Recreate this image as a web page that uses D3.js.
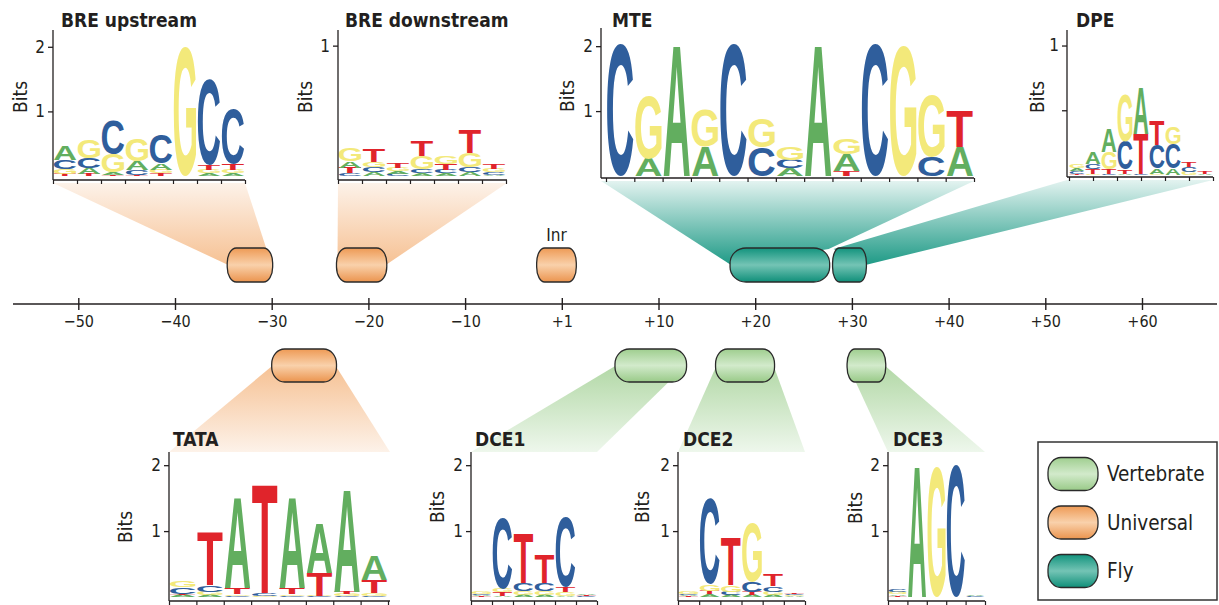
<!DOCTYPE html>
<html><head><meta charset="utf-8">
<script src="https://cdn.jsdelivr.net/npm/d3@7"></script>
<style>
html,body{margin:0;padding:0;background:#fff;}
svg{display:block;}
text{font-family:"DejaVu Sans Condensed","DejaVu Sans",sans-serif;font-stretch:condensed;}
</style></head><body>
<svg id="chart" width="1219" height="605"></svg>
<script>
// ---------------- DATA ----------------
const axisTickValues = [-50,-40,-30,-20,-10,0,10,20,30,40,50,60];
const axisTickLabels = ["\u221250","\u221240","\u221230","\u221220","\u221210","+1","+10","+20","+30","+40","+50","+60"];

const elementNames  = ["BRE upstream","BRE downstream","Inr","MTE","DPE","TATA","DCE1","DCE2","DCE3"];
const elementGroups = ["Universal","Universal","Universal","Fly","Fly","Universal","Vertebrate","Vertebrate","Vertebrate"];
const elementStart  = [-34.6,-23.3,-2.6,17.4,28.0,-30.0,5.5,15.9,29.5];
const elementEnd    = [-29.9,-18.1,1.5,27.7,31.5,-23.3,12.9,22.0,33.5];

const legendLabels = ["Vertebrate","Universal","Fly"];

// sequence logos: each column = [letter, bits] stacked bottom -> top
const logoBREup = [
  [["T",0.03],["G",0.08],["C",0.14],["A",0.22]],
  [["T",0.03],["A",0.09],["C",0.16],["G",0.28]],
  [["T",0.02],["A",0.04],["G",0.28],["C",0.52]],
  [["T",0.02],["C",0.07],["A",0.14],["G",0.34]],
  [["T",0.04],["G",0.06],["A",0.10],["C",0.44]],
  [["G",2.0]],
  [["A",0.04],["G",0.05],["T",0.07],["C",1.32]],
  [["A",0.04],["G",0.06],["T",0.09],["C",0.86]]
];
const logoBREdown = [
  [["C",0.02],["T",0.045],["A",0.05],["G",0.095]],
  [["A",0.03],["C",0.035],["G",0.04],["T",0.095]],
  [["C",0.015],["A",0.02],["G",0.025],["T",0.035]],
  [["A",0.02],["C",0.03],["G",0.10],["T",0.115]],
  [["A",0.02],["C",0.025],["T",0.05],["G",0.06]],
  [["A",0.03],["C",0.04],["G",0.11],["T",0.18]],
  [["A",0.01],["C",0.02],["G",0.025],["T",0.04]]
];
const logoMTE = [
  [["C",2.02]],
  [["A",0.27],["G",0.97]],
  [["A",2.02]],
  [["A",0.45],["G",0.56]],
  [["C",2.02]],
  [["C",0.44],["G",0.45]],
  [["A",0.12],["C",0.13],["G",0.20]],
  [["A",2.02]],
  [["T",0.08],["A",0.25],["G",0.25]],
  [["C",2.02]],
  [["G",2.02]],
  [["C",0.30],["G",0.95]],
  [["A",0.45],["T",0.56]]
];
const logoDPE = [
  [["T",0.01],["C",0.02],["A",0.02],["G",0.03]],
  [["G",0.01],["T",0.035],["C",0.04],["A",0.09]],
  [["C",0.01],["T",0.035],["G",0.13],["A",0.18]],
  [["A",0.01],["T",0.03],["C",0.22],["G",0.37]],
  [["C",0.01],["T",0.31],["A",0.36]],
  [["G",0.01],["A",0.04],["C",0.18],["T",0.19]],
  [["A",0.05],["C",0.19],["G",0.13]],
  [["G",0.025],["C",0.04],["T",0.04]],
  [["A",0.01],["T",0.02]]
];
const logoTATA = [
  [["A",0.03],["T",0.02],["C",0.10],["G",0.09]],
  [["A",0.03],["G",0.05],["C",0.10],["T",0.80]],
  [["C",0.02],["G",0.02],["T",0.10],["A",1.37]],
  [["G",0.02],["C",0.04],["T",1.65]],
  [["C",0.02],["G",0.02],["T",0.10],["A",1.37]],
  [["C",0.01],["G",0.01],["T",0.35],["A",0.74]],
  [["C",0.02],["G",0.03],["T",0.03],["A",1.56]],
  [["C",0.02],["G",0.04],["T",0.20],["A",0.38]]
];
const logoDCE1 = [
  [["T",0.01],["A",0.02],["C",0.02],["G",0.03]],
  [["A",0.02],["T",0.05],["G",0.05],["C",1.08]],
  [["A",0.03],["G",0.06],["C",0.12],["T",0.75]],
  [["A",0.03],["G",0.06],["C",0.12],["T",0.43]],
  [["A",0.02],["G",0.05],["T",0.08],["C",1.05]],
  [["C",0.01],["T",0.02],["A",0.02]]
];
const logoDCE2 = [
  [["T",0.01],["A",0.02],["C",0.02],["G",0.03]],
  [["A",0.04],["T",0.05],["G",0.10],["C",1.30]],
  [["A",0.03],["C",0.05],["G",0.10],["T",0.73]],
  [["A",0.03],["T",0.05],["C",0.15],["G",0.90]],
  [["A",0.03],["G",0.05],["C",0.08],["T",0.18]],
  [["A",0.01],["G",0.02],["C",0.02],["T",0.02]]
];
const logoDCE3 = [
  [["T",0.02],["A",0.02],["G",0.03],["C",0.03]],
  [["A",2.0]],
  [["G",1.97]],
  [["C",2.0]],
  [["C",0.01],["A",0.01]]
];

// ---------------- LAYOUT / STYLE ----------------
const INK = "#231f20";
const letterColor = {A:"#62ae5f", C:"#2f5e9c", G:"#f3e97a", T:"#e0242b"};
const groupStyle = {
  Universal:  {top:"#ee9a55", mid:"#f9d1ab", bot:"#eb944e", fDark:"#f6c193", fLight:"#fdf2e9"},
  Fly:        {top:"#12937d", mid:"#74c4b5", bot:"#0f8f79", fDark:"#1e9a86", fLight:"#e3f3f0"},
  Vertebrate: {top:"#9fce8f", mid:"#d2eacb", bot:"#99ca88", fDark:"#b2d8a6", fLight:"#eef7ec"}
};
const rowY = {top:{y0:248,y1:282}, bottom:{y0:349,y1:382}};
const layout = {
  "BRE upstream":  {row:"top", logo:logoBREup, ax0:53, ax1:245, c0:53, c1:245, tx0:53, tx1:245, nT:9, base:176, axisY:180, top:30, ymax:2.26, yT:[1,2], yL:["1","2"], title:[61,27], bits:[20,97], aL:"mid", aR:"mid"},
  "BRE downstream":{row:"top", logo:logoBREdown, ax0:338, ax1:507, c0:338, c1:506, tx0:338, tx1:506, nT:8, base:176, axisY:180, top:30, ymax:1.12, yT:[1], yL:["1"], title:[345,27], bits:[305,97], aL:"mid", aR:"mid"},
  "Inr":           {row:"top"},
  "MTE":           {row:"top", logo:logoMTE, ax0:601, ax1:974, c0:606, c1:974, tx0:606, tx1:974, nT:14, base:176, axisY:178, top:28, ymax:2.28, yT:[1,2], yL:["1","2"], title:[612,27], bits:[567,96], aL:"mid", aR:"top"},
  "DPE":           {row:"top", logo:logoDPE, ax0:1067, ax1:1213, c0:1069, c1:1213, tx0:1069, tx1:1213, nT:7, base:175, axisY:177, top:30, ymax:1.12, yT:[0.5,1], yL:["","1"], title:[1076,27], bits:[1037,97], aL:"top", aR:"mid"},
  "TATA":          {row:"bottom", logo:logoTATA, ax0:169, ax1:390, c0:169, c1:388, tx0:169, tx1:388, nT:9, base:597, axisY:601, top:452, ymax:2.2, yT:[1,2], yL:["1","2"], title:[173,446], bits:[125,527], aL:"mid", aR:"mid"},
  "DCE1":          {row:"bottom", logo:logoDCE1, ax0:471, ax1:597, c0:471, c1:597, tx0:471, tx1:597, nT:7, base:597, axisY:601, top:452, ymax:2.2, yT:[1,2], yL:["1","2"], title:[475,446], bits:[437,507], aL:"mid", aR:"mid"},
  "DCE2":          {row:"bottom", logo:logoDCE2, ax0:678, ax1:805, c0:678, c1:805, tx0:678, tx1:805, nT:7, base:597, axisY:601, top:452, ymax:2.2, yT:[1,2], yL:["1","2"], title:[683,446], bits:[642,507], aL:"mid", aR:"mid"},
  "DCE3":          {row:"bottom", logo:logoDCE3, ax0:888, ax1:985, c0:888, c1:985, tx0:888, tx1:985, nT:6, base:597, axisY:601, top:452, ymax:2.2, yT:[1,2], yL:["1","2"], title:[893,446], bits:[855,508], aL:"mid", aR:"mid"}
};

// ---------------- DRAW ----------------
const svg = d3.select("#chart");
const defs = svg.append("defs");
const gFun = svg.append("g"), gBox = svg.append("g"), gAxis = svg.append("g"), gLogo = svg.append("g"), gLeg = svg.append("g");

Object.entries(groupStyle).forEach(([k,s]) => {
  const lg = defs.append("linearGradient").attr("id","box-"+k).attr("x1",0).attr("y1",0).attr("x2",0).attr("y2",1);
  lg.append("stop").attr("offset","0").attr("stop-color",s.top);
  lg.append("stop").attr("offset","0.5").attr("stop-color",s.mid);
  lg.append("stop").attr("offset","1").attr("stop-color",s.bot);
});

const xMain = d3.scaleLinear().domain([-50,60]).range([78.3,1142]);

// main axis
const axisY = 304;
gAxis.append("line").attr("x1",13).attr("x2",1217).attr("y1",axisY).attr("y2",axisY)
  .attr("stroke",INK).attr("stroke-width",1.4);
const axG = gAxis.append("g").attr("transform",`translate(0,${axisY-6})`)
  .call(d3.axisBottom(xMain).tickValues(axisTickValues).tickFormat((d,i)=>axisTickLabels[i]).tickSize(12).tickPadding(6));
axG.select(".domain").remove();
axG.selectAll(".tick line").attr("stroke",INK).attr("stroke-width",1.4);
axG.selectAll(".tick text").attr("font-size",16).style("fill",INK)
  .style("font-family",'"DejaVu Sans Condensed","DejaVu Sans",sans-serif');

function boxPath(x0,y0,x1,y1,rx,ry){
  return `M${x0+rx},${y0} H${x1-rx} A${rx},${ry} 0 0 1 ${x1},${y0+ry} V${y1-ry} A${rx},${ry} 0 0 1 ${x1-rx},${y1} H${x0+rx} A${rx},${ry} 0 0 1 ${x0},${y1-ry} V${y0+ry} A${rx},${ry} 0 0 1 ${x0+rx},${y0} Z`;
}

// elements, funnels
elementNames.forEach((name,i) => {
  const grp = elementGroups[i], st = groupStyle[grp];
  const L = layout[name], r = rowY[L.row];
  const bx0 = xMain(elementStart[i]), bx1 = xMain(elementEnd[i]);
  const ym = (r.y0+r.y1)/2;
  const w = bx1-bx0, h = r.y1-r.y0;
  const rx = Math.min(w*0.2, 16), ry = Math.min(h/2, 15);
  if (L.logo) {
    const pL = L.aL==="top" ? [bx0+1, r.y0+1] : [bx0+1, ym];
    const pR = L.aR==="top" ? [bx1-1, r.y0+1] : [bx1-1, ym];
    const yl = L.row==="top" ? L.axisY+3 : L.top;
    const gid = "fun-"+i;
    const fg = defs.append("linearGradient").attr("id",gid).attr("gradientUnits","userSpaceOnUse")
      .attr("x1",0).attr("x2",0).attr("y1",ym).attr("y2",yl);
    fg.append("stop").attr("offset","0").attr("stop-color",st.fDark);
    fg.append("stop").attr("offset","1").attr("stop-color",st.fLight);
    const pts = L.row==="top" ? [[L.ax0,yl],[L.ax1,yl],pR,pL] : [pL,pR,[L.ax1,yl],[L.ax0,yl]];
    gFun.append("polygon").attr("points",pts.map(p=>p.join(",")).join(" ")).attr("fill",`url(#${gid})`);
  }
  gBox.append("path").attr("d",boxPath(bx0,r.y0,bx1,r.y1,rx,ry))
    .attr("fill",`url(#box-${grp})`).attr("stroke","#2a2a2a").attr("stroke-width",1.3);
  if (!L.logo) {
    gBox.append("text").attr("x",(bx0+bx1)/2).attr("y",r.y0-7).attr("text-anchor","middle")
      .attr("font-size",17).style("fill",INK).text(name);
  }
});

// glyph metrics via canvas
const ctx = document.createElement("canvas").getContext("2d");
const LFAM = "'Liberation Sans', Arial, sans-serif";
ctx.font = `bold 100px ${LFAM}`;
const gm = {};
"ACGT".split("").forEach(ch => {
  const m = ctx.measureText(ch);
  gm[ch] = {l:m.actualBoundingBoxLeft, r:m.actualBoundingBoxRight, a:m.actualBoundingBoxAscent, d:m.actualBoundingBoxDescent};
});

function drawLetter(g, ch, x, yTop, w, h){
  if (h <= 0.05) return;
  const m = gm[ch];
  const sx = w/(m.l+m.r), sy = h/(m.a+m.d);
  g.append("text").text(ch)
    .attr("transform",`translate(${x},${yTop+h}) scale(${sx},${sy}) translate(${m.l},${-m.d})`)
    .attr("font-size",100).style("font-family",LFAM).style("font-weight","bold")
    .style("font-stretch","normal").style("fill",letterColor[ch]);
}

// logos
elementNames.forEach((name) => {
  const L = layout[name];
  if (!L.logo) return;
  const g = gLogo.append("g");
  const xb = d3.scaleBand().domain(d3.range(L.logo.length)).range([L.c0,L.c1]).paddingInner(0.07).paddingOuter(0.035);
  const y = d3.scaleLinear().domain([0,L.ymax]).range([L.base,L.top]);
  L.logo.forEach((col,ci) => {
    let acc = 0;
    col.forEach(([ch,b]) => {
      const yb = y(acc), yt = y(acc+b);
      drawLetter(g, ch, xb(ci), yt, xb.bandwidth(), yb-yt);
      acc += b;
    });
  });
  g.append("line").attr("x1",L.ax0).attr("x2",L.ax0).attr("y1",L.top).attr("y2",L.axisY).attr("stroke",INK).attr("stroke-width",1.3);
  g.append("line").attr("x1",L.ax0).attr("x2",L.ax1).attr("y1",L.axisY).attr("y2",L.axisY).attr("stroke",INK).attr("stroke-width",1.3);
  const ya = g.append("g").attr("transform",`translate(${L.ax0},0)`)
    .call(d3.axisLeft(y).tickValues(L.yT).tickFormat((d,i)=>L.yL[i]).tickSize(5).tickPadding(3));
  ya.select(".domain").remove();
  ya.selectAll(".tick line").attr("stroke",INK).attr("stroke-width",1.3);
  ya.selectAll(".tick text").attr("font-size",17).style("fill",INK)
    .style("font-family",'"DejaVu Sans Condensed","DejaVu Sans",sans-serif');
  const xt = d3.scaleLinear().domain([0,L.nT-1]).range([L.tx0,L.tx1]);
  const xa = g.append("g").attr("transform",`translate(0,${L.axisY})`)
    .call(d3.axisBottom(xt).tickValues(d3.range(L.nT)).tickFormat("").tickSize(4));
  xa.select(".domain").remove();
  xa.selectAll(".tick line").attr("stroke",INK).attr("stroke-width",1.2);
  g.append("text").attr("x",L.title[0]).attr("y",L.title[1]).attr("font-size",19).style("font-weight","bold").style("fill",INK).text(name);
  g.append("text").attr("transform",`translate(${L.bits[0]},${L.bits[1]}) rotate(-90)`)
    .attr("text-anchor","middle").attr("dominant-baseline","central").attr("font-size",19).style("fill",INK).text("Bits");
});

// legend
gLeg.append("rect").attr("x",1038).attr("y",442).attr("width",179).attr("height",158)
  .attr("fill","#fff").attr("stroke","#333").attr("stroke-width",1.5);
const ly = d3.scalePoint().domain(legendLabels).range([474,571]);
legendLabels.forEach(lbl => {
  const cy = ly(lbl);
  gLeg.append("path").attr("d",boxPath(1048,cy-16.5,1098,cy+16.5,13,15))
    .attr("fill",`url(#box-${lbl})`).attr("stroke","#2a2a2a").attr("stroke-width",1.3);
  gLeg.append("text").attr("x",1107).attr("y",cy).attr("dominant-baseline","central")
    .attr("font-size",20.5).style("fill",INK).text(lbl);
});
</script>
</body></html>
